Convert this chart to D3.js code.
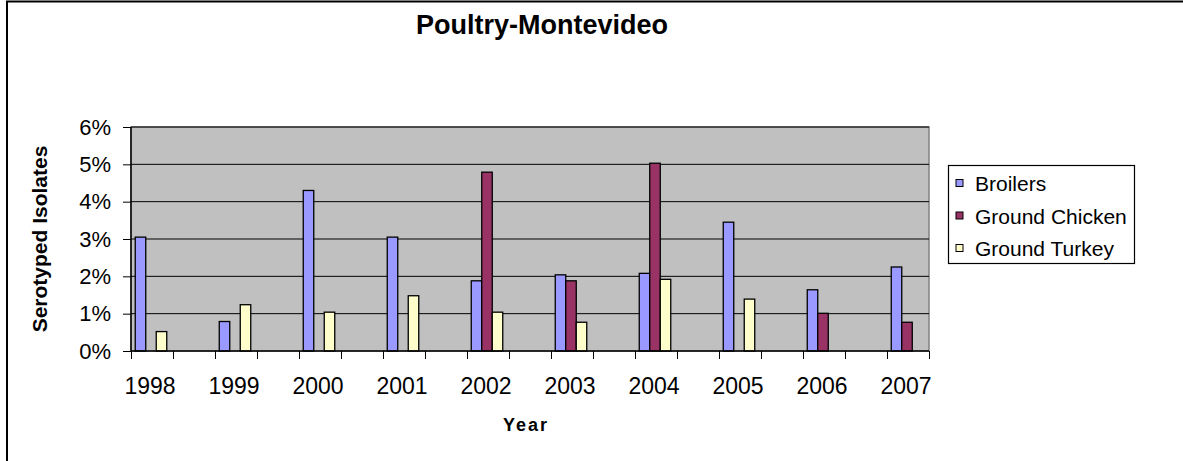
<!DOCTYPE html>
<html>
<head>
<meta charset="utf-8">
<script src="https://cdn.jsdelivr.net/npm/d3@7"></script>
<style>
  body { margin: 0; background: #fff; }
  svg { font-family: "Liberation Sans", Arial, sans-serif; display: block; }
</style>
</head>
<body>
<div id="chart"></div>
<script>
const years = ["1998", "1999", "2000", "2001", "2002", "2003", "2004", "2005", "2006", "2007"];
const seriesNames = ["Broilers", "Ground Chicken", "Ground Turkey"];
const broilers = [0.0305, 0.0079, 0.0430, 0.0305, 0.0188, 0.0204, 0.0208, 0.0345, 0.0164, 0.0225];
const groundChicken = [null, null, null, null, 0.0479, 0.0188, 0.0503, null, 0.0101, 0.0077];
const groundTurkey = [0.0052, 0.0124, 0.0104, 0.0148, 0.0104, 0.0077, 0.0192, 0.0139, null, null];
const yTicks = [0, 0.01, 0.02, 0.03, 0.04, 0.05, 0.06];
const colors = ["#9999FF", "#993366", "#FFFFCC"];

const seriesValues = [broilers, groundChicken, groundTurkey];

const width = 1183, height = 461;
const plot = { left: 131, right: 929, top: 127, bottom: 351 };

const svg = d3.select("#chart")
  .append("svg")
    .attr("width", width)
    .attr("height", height);

// outer chart frame (only top and left are visible)
svg.append("path")
  .attr("d", `M7,${height} V1.5 H${width}`)
  .attr("fill", "none")
  .attr("stroke", "#000")
  .attr("stroke-width", 2);

// years sit on every other slot, with an empty slot between them
const slots = d3.range(years.length * 2 - 1);
const x = d3.scaleBand()
  .domain(slots)
  .range([plot.left, plot.right]);

const xInner = d3.scaleBand()
  .domain(seriesNames)
  .range([0, x.bandwidth()])
  .paddingOuter(0.5);

const y = d3.scaleLinear()
  .domain([0, 0.06])
  .range([plot.bottom, plot.top]);

// plot background
svg.append("rect")
  .attr("x", plot.left)
  .attr("y", plot.top)
  .attr("width", plot.right - plot.left)
  .attr("height", plot.bottom - plot.top)
  .attr("fill", "#C0C0C0")
  .attr("stroke", "#808080")
  .attr("stroke-width", 1.5);

// gridlines
svg.append("g")
  .selectAll("line")
  .data(yTicks.slice(1))
  .enter()
  .append("line")
    .attr("x1", plot.left)
    .attr("x2", plot.right)
    .attr("y1", d => y(d))
    .attr("y2", d => y(d))
    .attr("stroke", "#000")
    .attr("stroke-width", 1);

// bars
const barData = [];
years.forEach((yr, i) => {
  seriesNames.forEach((s, j) => {
    const v = seriesValues[j][i];
    if (v != null) barData.push({ slot: i * 2, series: s, value: v, color: colors[j] });
  });
});

svg.append("g")
  .selectAll("rect")
  .data(barData)
  .enter()
  .append("rect")
    .attr("x", d => x(d.slot) + xInner(d.series) - 1)
    .attr("y", d => y(d.value))
    .attr("width", xInner.bandwidth())
    .attr("height", d => y(0) - y(d.value))
    .attr("fill", d => d.color)
    .attr("stroke", "#000")
    .attr("stroke-width", 1.3);

// y axis
const yAxis = svg.append("g")
  .attr("transform", `translate(${plot.left},0)`)
  .call(d3.axisLeft(y).tickValues(yTicks).tickFormat(d3.format(".0%")).tickSize(8).tickPadding(12));
yAxis.select(".domain").attr("stroke", "#000").attr("stroke-width", 1.5).attr("d", `M0,${plot.top}V${plot.bottom}`);
yAxis.selectAll("text").attr("font-size", 22).attr("font-family", "Liberation Sans, Arial, sans-serif").attr("fill", "#000");

// x axis: tick marks between slots
const xEdges = d3.scaleLinear().domain([0, slots.length]).range([plot.left, plot.right]);
const xAxis = svg.append("g")
  .attr("transform", `translate(0,${plot.bottom})`)
  .call(d3.axisBottom(xEdges).tickValues(d3.range(slots.length + 1)).tickFormat("").tickSize(8));
xAxis.select(".domain").attr("stroke", "#000").attr("stroke-width", 1.5).attr("d", `M${plot.left},0H${plot.right}`);

svg.append("g")
  .selectAll("text")
  .data(years)
  .enter()
  .append("text")
    .attr("x", (d, i) => x(i * 2) + x.bandwidth() / 2 - 2)
    .attr("y", 394)
    .attr("text-anchor", "middle")
    .attr("font-size", 23)
    .text(d => d);

// titles
svg.append("text")
  .attr("x", 542)
  .attr("y", 34)
  .attr("text-anchor", "middle")
  .attr("font-size", 27)
  .attr("font-weight", "bold")
  .text("Poultry-Montevideo");

svg.append("text")
  .attr("x", 526)
  .attr("y", 431)
  .attr("text-anchor", "middle")
  .attr("font-size", 18)
  .attr("font-weight", "bold")
  .attr("letter-spacing", 2)
  .text("Year");

svg.append("text")
  .attr("transform", `translate(47,${(plot.top + plot.bottom) / 2}) rotate(-90)`)
  .attr("text-anchor", "middle")
  .attr("font-size", 21)
  .attr("font-weight", "bold")
  .text("Serotyped Isolates");

// legend
const legend = svg.append("g");
legend.append("rect")
  .attr("x", 948.5)
  .attr("y", 165.5)
  .attr("width", 186)
  .attr("height", 98)
  .attr("fill", "#fff")
  .attr("stroke", "#000")
  .attr("stroke-width", 1.2);

const legendItems = legend.selectAll("g.item")
  .data(seriesNames)
  .enter()
  .append("g")
    .attr("class", "item")
    .attr("transform", (d, i) => `translate(956,${183 + i * 32.5})`);

legendItems.append("rect")
  .attr("x", 0)
  .attr("y", -3.5)
  .attr("width", 7)
  .attr("height", 7)
  .attr("fill", (d, i) => colors[i])
  .attr("stroke", "#000")
  .attr("stroke-width", 1);

legendItems.append("text")
  .attr("x", 19)
  .attr("y", 8)
  .attr("font-size", 21)
  .text(d => d);
</script>
</body>
</html>
